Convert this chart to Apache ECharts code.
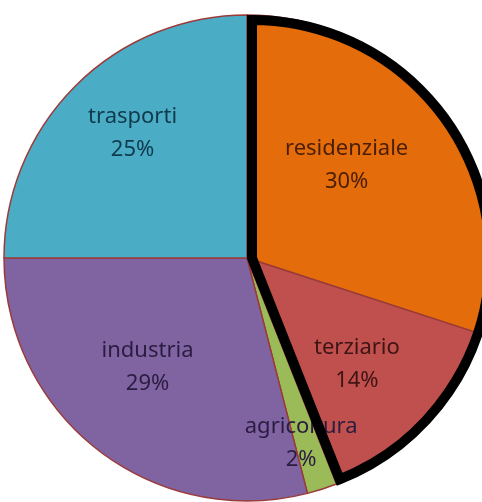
<!DOCTYPE html>
<html>
<head>
<meta charset="utf-8">
<script src="https://cdn.jsdelivr.net/npm/echarts@6/dist/echarts.min.js"></script>
<style>
  html, body { margin: 0; padding: 0; background: #fff; }
  #chart { width: 482px; height: 502px; }
</style>
</head>
<body>
<div id="chart"></div>
<script>
// quote percentuali dei consumi per settore (in senso orario dalle 12)
var categories = ['residenziale', 'terziario', 'agricoltura', 'industria', 'trasporti']
var values = [30, 14, 2, 29, 25]
var sliceColors = ['#E46C0A', '#C0504D', '#9BBB59', '#8064A2', '#4BACC6']
var labelColors = ['#4a1e04', '#3e1414', '#2a1c40', '#2a1c40', '#0f3a4c']
// settori evidenziati dal bordo nero
var highlighted = ['residenziale', 'terziario']

var center = [247, 258]
var radius = 243
// piccoli spostamenti delle etichette (come le mette Excel)
var labelShift = [[-29, 1], [-6, -3], [5, 34], [-2, -16], [-2, -12]]

var myChart = echarts.init(document.getElementById('chart'))

var pieData = categories.map(function (name, i) {
  return {
    name: name,
    value: values[i],
    itemStyle: { color: sliceColors[i] }
  }
})

var labelData = categories.map(function (name, i) {
  return {
    name: name,
    value: values[i],
    label: { color: labelColors[i] }
  }
})

var hlSum = 0
categories.forEach(function (name, i) {
  if (highlighted.indexOf(name) >= 0) hlSum += values[i]
})
var total = values.reduce(function (a, b) { return a + b }, 0)

var option = {
  animation: false,
  series: [
    {
      type: 'pie',
      center: center,
      radius: [0, radius],
      startAngle: 90,
      clockwise: true,
      silent: true,
      label: { show: false },
      labelLine: { show: false },
      itemStyle: {
        borderColor: '#9a3b3a',
        borderWidth: 1.5
      },
      emphasis: { disabled: true },
      data: pieData
    },
    {
      // serie invisibile usata solo per posizionare le etichette
      type: 'pie',
      center: center,
      radius: [0, 312],
      startAngle: 90,
      clockwise: true,
      silent: true,
      avoidLabelOverlap: false,
      itemStyle: { color: 'transparent', borderWidth: 0 },
      label: {
        show: true,
        position: 'inside',
        formatter: '{b}\n{c}%',
        fontFamily: 'Noto Sans',
        fontSize: 22,
        lineHeight: 33
      },
      labelLayout: function (params) {
        var s = labelShift[params.dataIndex]
        return { dx: s[0], dy: s[1], hideOverlap: false }
      },
      labelLine: { show: false },
      emphasis: { disabled: true },
      data: labelData
    },
    {
      // bordo nero attorno a residenziale + terziario
      type: 'pie',
      z: 3,
      center: [center[0] + 5, center[1]],
      radius: [0, radius - 5],
      startAngle: 90,
      clockwise: true,
      silent: true,
      label: { show: false },
      labelLine: { show: false },
      emphasis: { disabled: true },
      data: [
        {
          value: hlSum,
          itemStyle: { color: 'transparent', borderColor: '#000', borderWidth: 10, borderJoin: 'miter' }
        },
        {
          value: total - hlSum,
          itemStyle: { color: 'transparent', borderWidth: 0 }
        }
      ]
    }
  ]
}

myChart.setOption(option)
</script>
</body>
</html>
